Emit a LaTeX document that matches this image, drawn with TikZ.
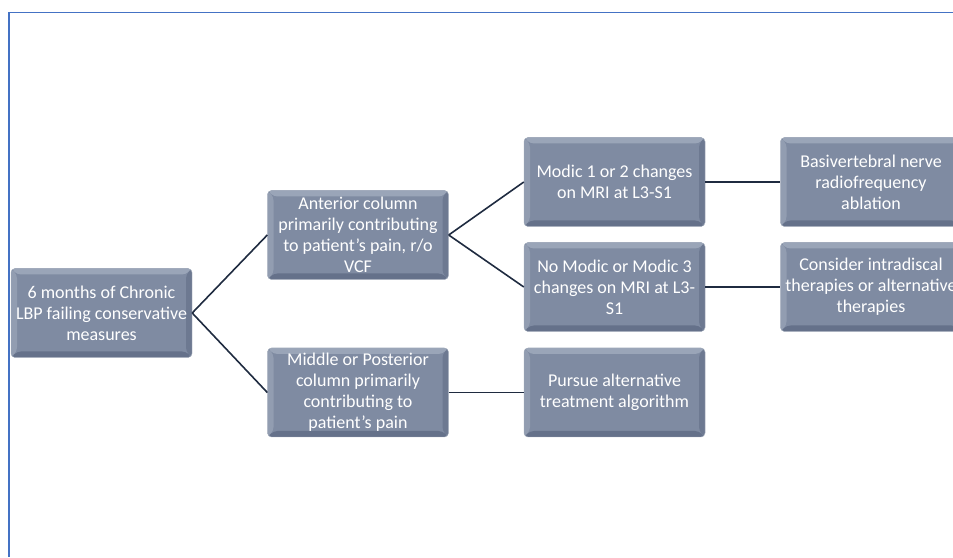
\documentclass[tikz,border=0pt]{standalone}
\usepackage{fontspec}
\setmainfont{Carlito}
\usepackage{tikz}

\definecolor{boxfill}{HTML}{7F8BA2}
\definecolor{boxlight}{HTML}{9AA5B8}
\definecolor{boxdark}{HTML}{65718A}
\definecolor{boxedge}{HTML}{A7B0BE}
\definecolor{linknavy}{HTML}{1F2B40}
\definecolor{frameblue}{HTML}{4472C4}

\begin{document}
\begin{tikzpicture}[x=1pt,y=1pt]
  \tikzstyle{stage}=[draw=boxedge,fill=boxfill,rounded corners=4pt,
    minimum width=181pt,minimum height=89pt,inner sep=0pt,align=center,
    text=white,font=\fontsize{18}{21}\selectfont,
    path picture={
      \fill[boxlight] (path picture bounding box.north west) -- (path picture bounding box.north east)
        -- ([shift={(-6pt,-6pt)}]path picture bounding box.north east)
        -- ([shift={(6pt,-6pt)}]path picture bounding box.north west) -- cycle;
      \fill[boxlight!70!boxfill] (path picture bounding box.north west) -- (path picture bounding box.south west)
        -- ([shift={(6pt,6pt)}]path picture bounding box.south west)
        -- ([shift={(6pt,-6pt)}]path picture bounding box.north west) -- cycle;
      \fill[boxdark] (path picture bounding box.south west) -- (path picture bounding box.south east)
        -- ([shift={(-6pt,6pt)}]path picture bounding box.south east)
        -- ([shift={(6pt,6pt)}]path picture bounding box.south west) -- cycle;
      \fill[boxdark!70!boxfill] (path picture bounding box.north east) -- (path picture bounding box.south east)
        -- ([shift={(-6pt,6pt)}]path picture bounding box.south east)
        -- ([shift={(-6pt,-6pt)}]path picture bounding box.north east) -- cycle;
    }]
  \tikzstyle{link}=[draw=linknavy,line width=1.6pt]
  \clip (0,0) rectangle (953,557);
  % frame
  \draw[frameblue,line width=1.5pt] (9,0) -- (9,544.5) -- (953,544.5);
  % boxes
  \node[stage] (chronic) at (101.5,244) {6 months of Chronic\\LBP failing conservative\\measures};
  \node[stage] (anterior) at (358,322) {Anterior column\\primarily contributing\\to patient’s pain, r/o\\VCF};
  \node[stage] (posterior) at (358,164.5) {Middle or Posterior\\column primarily\\contributing to\\patient’s pain};
  \node[stage] (modic) at (614.5,375) {Modic 1 or 2 changes\\on MRI at L3-S1};
  \node[stage] (nomodic) at (614.5,270) {No Modic or Modic 3\\changes on MRI at L3-\\S1};
  \node[stage] (pursue) at (614.5,164.5) {Pursue alternative\\treatment algorithm};
  \node[stage] (ablation) at (871,375) {Basivertebral nerve\\radiofrequency\\ablation};
  \node[stage] (intradiscal) at (871,270) {Consider intradiscal\\therapies or alternative\\therapies};
  % connectors
  \draw[link] (chronic.east) -- (anterior.west);
  \draw[link] (chronic.east) -- (posterior.west);
  \draw[link] (anterior.east) -- (modic.west);
  \draw[link] (anterior.east) -- (nomodic.west);
  \draw[link] (posterior.east) -- (pursue.west);
  \draw[link] (modic.east) -- (ablation.west);
  \draw[link] (nomodic.east) -- (intradiscal.west);
\end{tikzpicture}
\end{document}
